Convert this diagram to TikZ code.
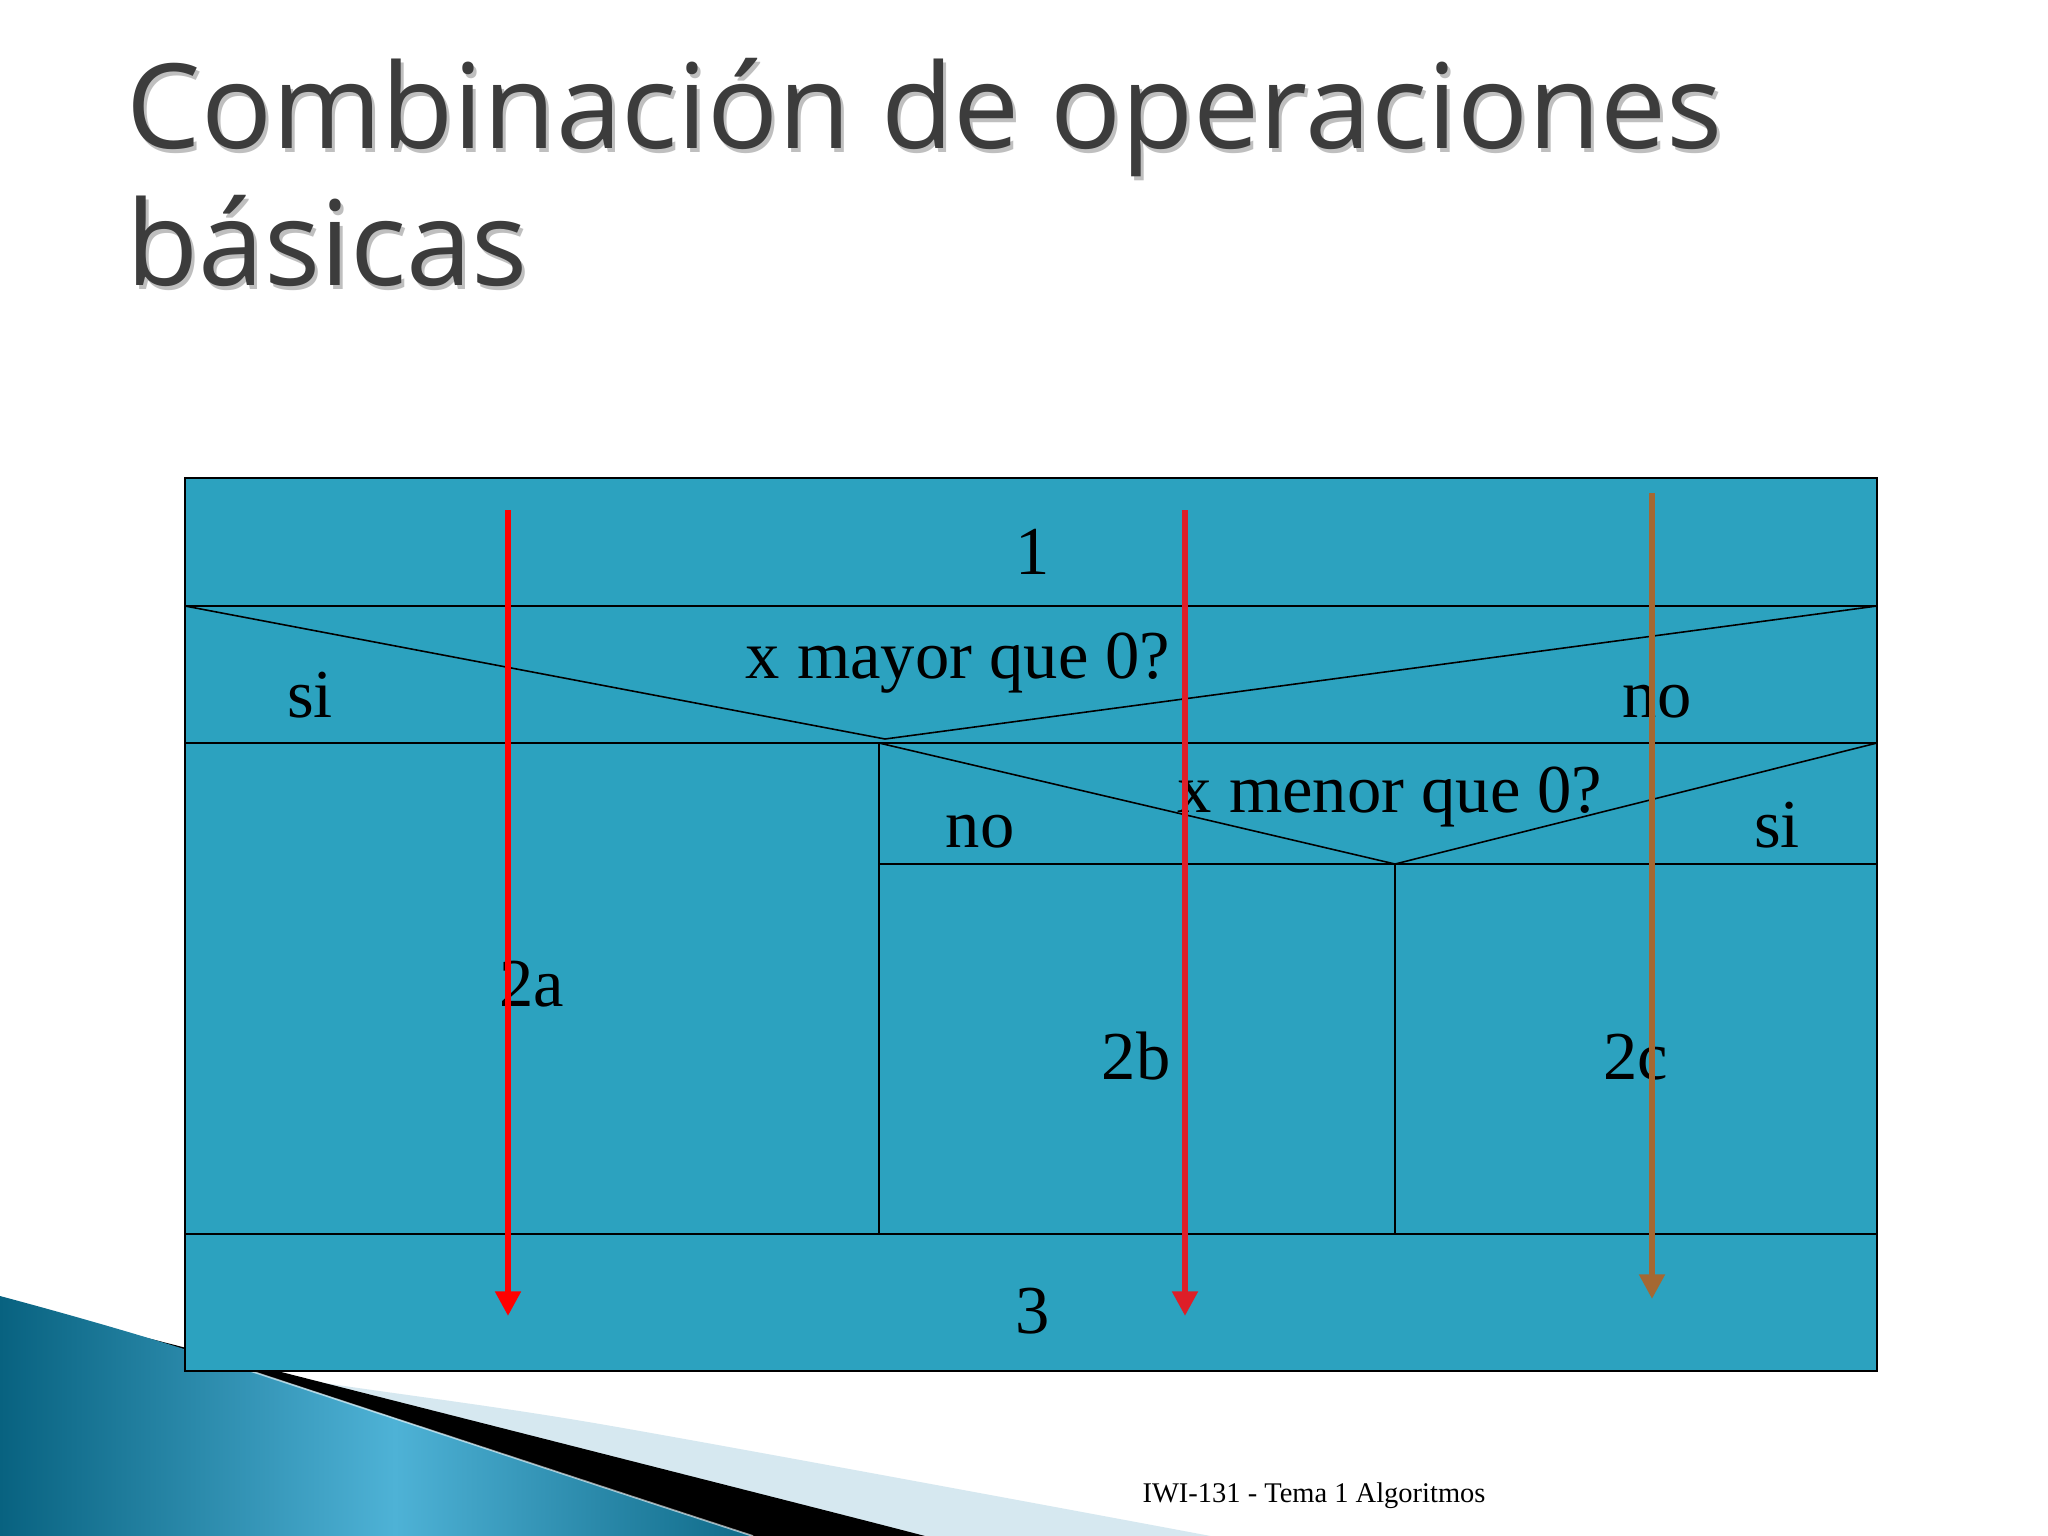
\documentclass[tikz,border=0pt]{standalone}
\usepackage{fontspec}
\setmainfont{Liberation Serif}
\newfontfamily\titlefont{Open Sans}
\usepackage{xcolor}
\usepackage{tikz}
\usetikzlibrary{arrows.meta}
\definecolor{nsblue}{RGB}{44,162,191}
\definecolor{flowred}{RGB}{255,0,0}
\definecolor{flowcrimson}{RGB}{222,30,40}
\definecolor{flowbrown}{RGB}{165,104,50}
\definecolor{titlegray}{RGB}{60,60,60}
\definecolor{swdark}{RGB}{8,98,128}
\definecolor{swlight}{RGB}{78,178,214}
\definecolor{swpale}{RGB}{214,232,240}

\begin{document}
\begin{tikzpicture}[x=0.01cm,y=-0.01cm,
  lbl/.style={anchor=base,inner sep=0pt,font=\fontsize{19.5}{23}\selectfont},
  ttl/.style={anchor=base west,inner sep=0pt,font=\titlefont\fontsize{33.5}{40}\selectfont},
  flow/.style={line width=1.7pt,-{Triangle[length=7pt,width=7pt]}},
  nsline/.style={line width=0.8pt},
  nsthin/.style={line width=0.45pt}]
\useasboundingbox (0,0) rectangle (2048,1536);
\fill [white] (0,0) rectangle (2048,1536);

\begin{scope}
\clip (0,0) rectangle (2048,1536);
\fill [swpale] plot[smooth] coordinates {(140,1336) (283,1376) (600,1424) (1200,1534) (1260,1548)} -- (0,1548) -- cycle;
\fill [black] plot[smooth] coordinates {(60,1316) (100,1326) (600,1453) (925,1536) (960,1548)} -- (0,1548) -- cycle;
\shade [left color=swdark, right color=swdark, middle color=swlight] plot[smooth] coordinates {(0,1296) (184,1349) (600,1486) (753,1536) (790,1548)} -- (0,1548) -- cycle;
\draw [white, opacity=0.6, line width=0.5pt] plot[smooth] coordinates {(184,1349) (600,1486) (753,1536)};
\end{scope}

\node [ttl, text=black!25] (titleshadow) at (129,152) {Combinación de operaciones};
\node [ttl, text=black!25] (titleshadowb) at (129,289) {básicas};
\node [ttl, text=titlegray] (title) at (126,148) {Combinación de operaciones};
\node [ttl, text=titlegray] (titleb) at (126,285) {básicas};

\fill [nsblue] (185,478) rectangle (1877,1371);
\draw [nsline] (185,478) rectangle (1877,1371);
\draw [nsline] (185,606) -- (1877,606);
\draw [nsthin] (185,606) -- (885,739) -- (1877,606);
\draw [nsline] (185,743) -- (1877,743);
\draw [nsthin] (879,743) -- (879,1234);
\draw [nsthin] (879,743) -- (1395,864) -- (1877,743);
\draw [nsthin] (879,864) -- (1877,864);
\draw [nsthin] (1395,864) -- (1395,1234);
\draw [nsthin] (185,1234) -- (1877,1234);

\node [lbl] (one) at (1033,574) {1};
\node [lbl] (qmayor) at (958,678) {x mayor que 0?};
\node [lbl] (sia) at (310,717) {si};
\node [lbl] (noa) at (1657,717) {no};
\node [lbl] (qmenor) at (1390,812) {x menor que 0?};
\node [lbl] (nob) at (980,847) {no};
\node [lbl] (sib) at (1777,847) {si};
\node [lbl] (twoa) at (532,1006) {2a};
\node [lbl] (twob) at (1136,1079) {2b};
\node [lbl] (twoc) at (1636,1079) {2c};
\node [lbl] (three) at (1033,1333) {3};

\coordinate (ra) at (508,510);
\coordinate (rae) at (508,1316);
\coordinate (rb) at (1185,510);
\coordinate (rbe) at (1185,1316);
\coordinate (bc) at (1652,493);
\coordinate (bce) at (1652,1299);
\draw [flow, flowred] (ra) -- (rae);
\draw [flow, flowcrimson] (rb) -- (rbe);
\draw [flow, flowbrown] (bc) -- (bce);

\node [anchor=base, inner sep=0pt, font=\fontsize{8.1}{10}\selectfont] (foot) at (1314,1502) {IWI-131 - Tema 1 Algoritmos};
\end{tikzpicture}
\end{document}
